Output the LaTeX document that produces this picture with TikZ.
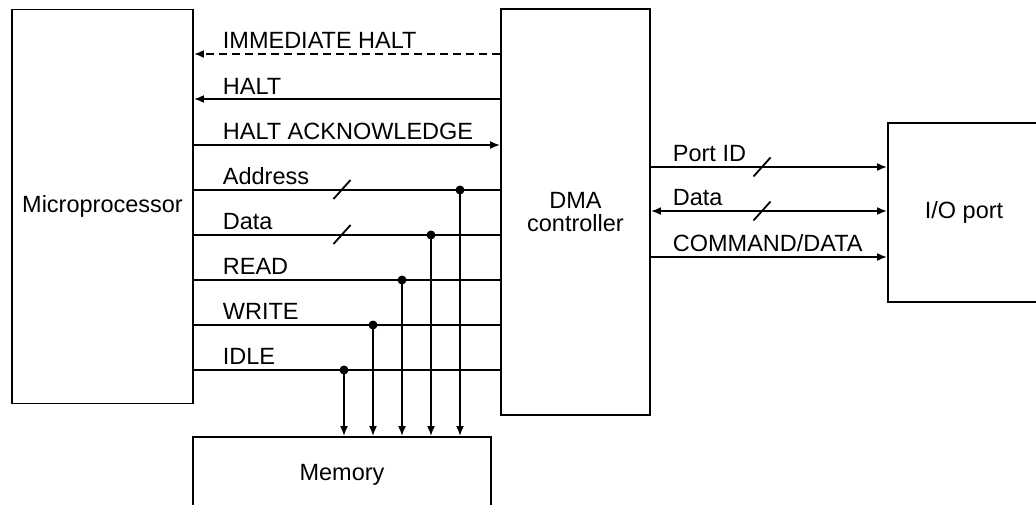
\documentclass[tikz,border=0pt]{standalone}
\usepackage{fontspec}
\setmainfont{Liberation Sans}
\usetikzlibrary{arrows.meta,calc}
\begin{document}
\begin{tikzpicture}[x=1pt,y=-1pt,line width=1.8pt,
  box/.style={draw,line width=1.9pt,rectangle,inner sep=0pt,font=\fontsize{23.5}{27}\selectfont},
  lbl/.style={anchor=base west,inner sep=0pt,font=\fontsize{23.5}{27}\selectfont},
  arr/.style={-{Latex[length=10pt,width=8pt]}},
  dot/.style={circle,fill,inner sep=0pt,minimum size=9pt},
  slash/.style={line width=1.8pt}]
\useasboundingbox (0,0) rectangle (1036,504);
\node[box,minimum width=181pt,minimum height=394pt] (mp) at (102.5,206.5) {Microprocessor};
\node[box,minimum width=149pt,minimum height=406pt,align=center,font=\fontsize{23.5}{23}\selectfont] (dma) at (575.5,212) {DMA\\controller};
\node[box,minimum width=152pt,minimum height=179pt] (io) at (964,212.5) {I/O port};
\node[box,minimum width=298pt,minimum height=76pt] (mem) at (342,475) {Memory};
% left bus levels
\coordinate (yIH) at (0,54);
\coordinate (yH) at (0,99);
\coordinate (yHA) at (0,145);
\coordinate (yA) at (0,190);
\coordinate (yD) at (0,235);
\coordinate (yR) at (0,280);
\coordinate (yW) at (0,325);
\coordinate (yI) at (0,370);
\draw[arr,dashed,dash pattern=on 8pt off 5pt] (dma.west |- yIH) -- (mp.east |- yIH);
\draw[arr] (dma.west |- yH) -- (mp.east |- yH);
\draw[arr] (mp.east |- yHA) -- (dma.west |- yHA);
\draw (mp.east |- yA) -- (dma.west |- yA);
\draw (mp.east |- yD) -- (dma.west |- yD);
\draw (mp.east |- yR) -- (dma.west |- yR);
\draw (mp.east |- yW) -- (dma.west |- yW);
\draw (mp.east |- yI) -- (dma.west |- yI);
\node[lbl] (tIH) at (222,48) {IMMEDIATE HALT};
\node[lbl] (tH) at (222,94) {HALT};
\node[lbl] (tHA) at (222,139) {HALT ACKNOWLEDGE};
\node[lbl] (tA) at (222,184) {Address};
\node[lbl] (tD) at (222,229) {Data};
\node[lbl] (tR) at (222,274) {READ};
\node[lbl] (tW) at (222,319) {WRITE};
\node[lbl] (tI) at (222,364) {IDLE};
% slashes
\coordinate (sA) at (342,189.5);
\coordinate (sD) at (342,234.5);
\draw[slash] ($(sA)+(-8.5,9.5)$) -- ($(sA)+(8.5,-9.5)$);
\draw[slash] ($(sD)+(-8.5,9.5)$) -- ($(sD)+(8.5,-9.5)$);
% memory taps
\node[dot] (jA) at (460,190) {};
\node[dot] (jD) at (431,235) {};
\node[dot] (jR) at (402,280) {};
\node[dot] (jW) at (373,325) {};
\node[dot] (jI) at (344,370) {};
\foreach \j in {jA,jD,jR,jW,jI}
  \draw[arr] (\j.center) -- (\j.center |- mem.north);
% right side
\coordinate (yP) at (0,167);
\coordinate (yRD) at (0,211);
\coordinate (yC) at (0,257);
\draw[arr] (dma.east |- yP) -- (io.west |- yP);
\draw[{Latex[length=10pt,width=8pt]}-{Latex[length=10pt,width=8pt]}] (dma.east |- yRD) -- (io.west |- yRD);
\draw[arr] (dma.east |- yC) -- (io.west |- yC);
\node[lbl] (tP) at (672,161) {Port ID};
\node[lbl] (tRD) at (672,205) {Data};
\node[lbl] (tC) at (672,251) {COMMAND/DATA};
\coordinate (sP) at (762,167);
\coordinate (sRD) at (762,211);
\draw[slash] ($(sP)+(-8.5,9.5)$) -- ($(sP)+(8.5,-9.5)$);
\draw[slash] ($(sRD)+(-8.5,9.5)$) -- ($(sRD)+(8.5,-9.5)$);
\end{tikzpicture}
\end{document}
